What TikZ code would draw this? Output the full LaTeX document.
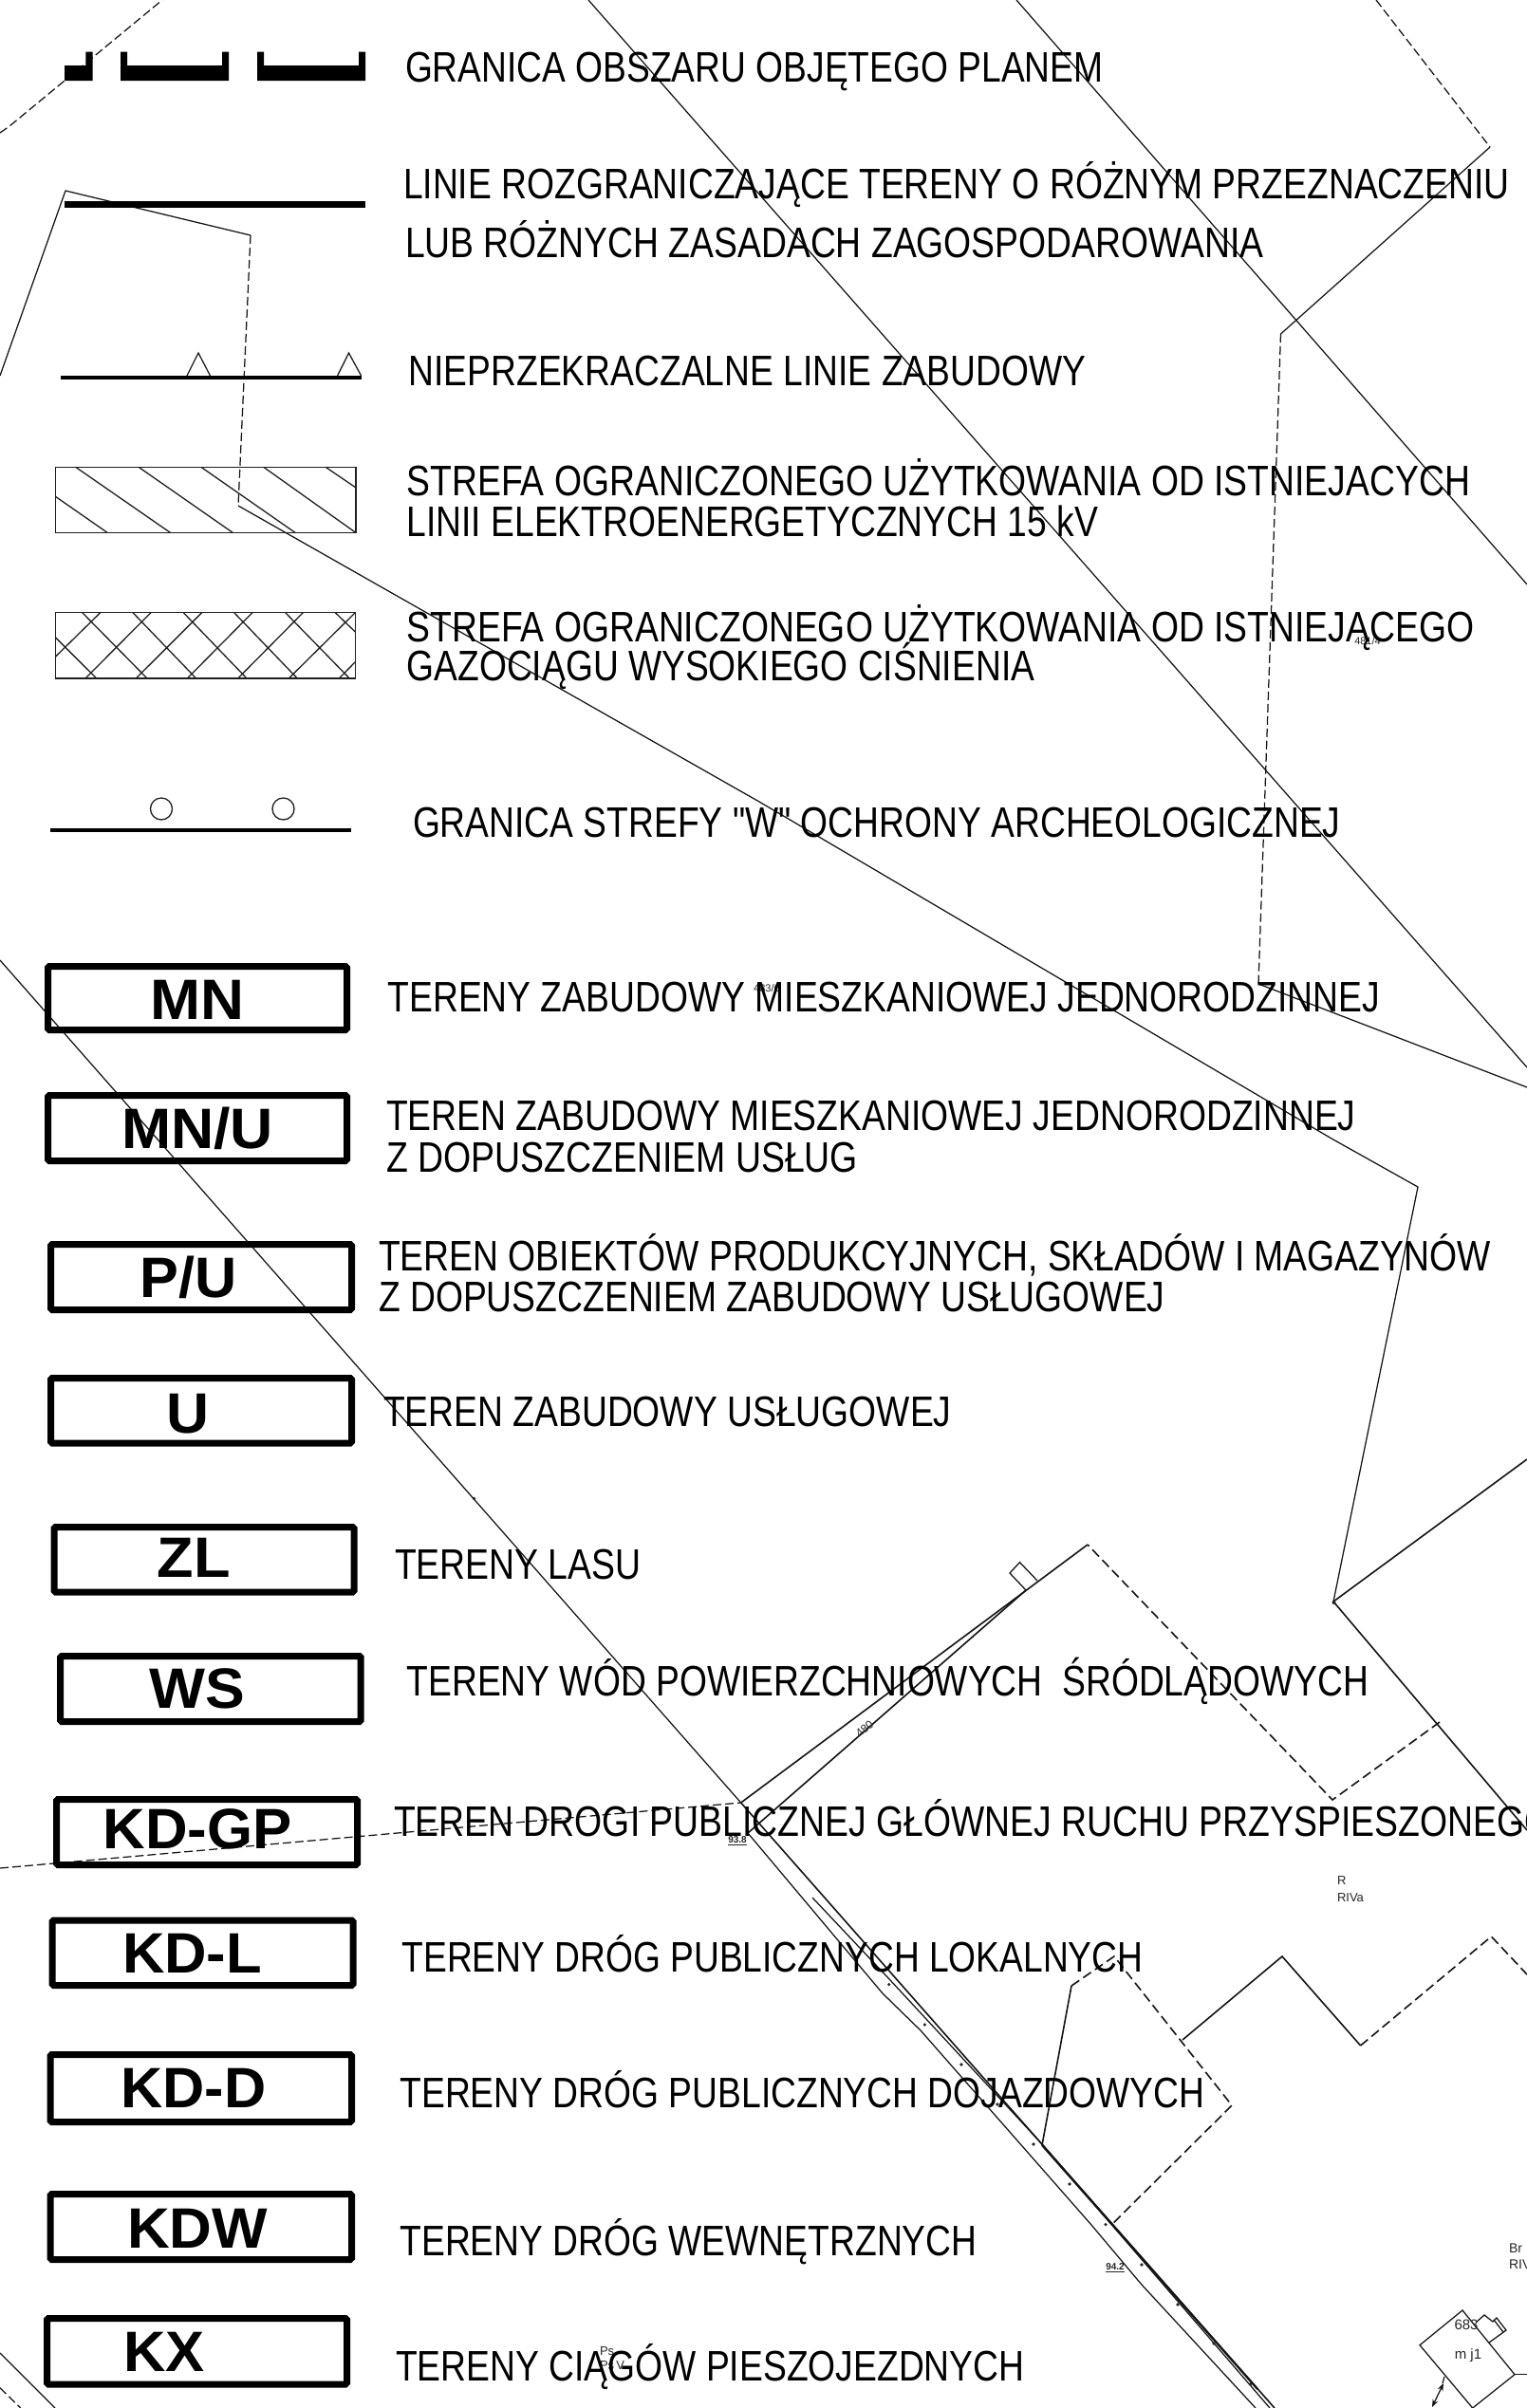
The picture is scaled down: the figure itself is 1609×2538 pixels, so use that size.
\documentclass[tikz,border=0pt]{standalone}
\usepackage{fontspec}
\usepackage{graphicx}
\setmainfont{Liberation Sans}[Ligatures=TeXOff]
\usetikzlibrary{arrows.meta,calc}
\tikzset{
  planline/.style={line width=1.25pt,draw=black!92},
  plandash/.style={line width=1.25pt,draw=black!92,dash pattern=on 9pt off 4pt},
  planheavy/.style={line width=1.6pt,draw=black!92},
  plandashheavy/.style={line width=1.6pt,draw=black!92,dash pattern=on 10pt off 5pt},
  hatchline/.style={line width=1.3pt,draw=black!88},
  symline/.style={line width=3.6pt,draw=black},
  landbox/.style={line width=7pt,draw=black,rounded corners=1.5pt},
  legendtext/.style={anchor=base west,inner sep=0pt,outer sep=0pt,font=\fontsize{45}{50}\selectfont},
  codetext/.style={anchor=base west,inner sep=0pt,outer sep=0pt,font=\fontsize{60}{66}\selectfont\bfseries},
  tinytext/.style={inner sep=0pt,outer sep=0pt,text=black!85,font=\fontsize{14}{16}\selectfont},
  plandot/.style={fill=black!85}
}
\newcommand\legtxt[5]{\node[legendtext,xshift=-1pt] (#1) at (#2,#3) {\resizebox{\dimexpr#4pt+3.5pt\relax}{\height}{#5}};}
\newcommand\codetxt[5]{\node[codetext,xshift=-1.5pt,yshift=1.5pt] (#1) at (#2,#3) {\resizebox{\dimexpr#4pt+3pt\relax}{\height}{#5}};}
\begin{document}
\begin{tikzpicture}[x=1pt,y=-1pt]
\useasboundingbox (0,0) rectangle (1609,2538);
\fill[white] (0,0) rectangle (1609,2538);
\clip (0,0) rectangle (1609,2538);
% --- cadastral plan underneath
\draw[plandash] (0,140) -- (10,133) -- (171,0);
\draw[planline] (0,396) -- (69,201) -- (264,248);
\draw[plandash] (264,248) -- (251,533);
\draw[planline] (251,533) -- (800,845) -- (1403,1200) -- (1494,1251) -- (1405,1688);
\draw[planheavy] (1405,1688) -- (1609,1538);
\draw[planline] (620,0) -- (1609,1125);
\draw[planline] (1071,0) -- (1609,616);
\draw[plandash] (1450,0) -- (1570,155);
\draw[planline] (1570,155) -- (1349.5,352);
\draw[plandash] (1349.5,352) -- (1326,1037);
\draw[planline] (1326,1037) -- (1609,1146);
\draw[planheavy] (1405,1688) -- (1609,1929);
\fill[plandot] (1405.5,1689) circle (2pt);
\draw[plandashheavy] (1517,1815) -- (1404,1897) -- (1146,1628);
\draw[planheavy] (1146,1628) -- (780.7,1900);
\draw[plandash] (0,1969) -- (780.7,1900);
\draw[planheavy] (1081,1676) -- (788,1932);
\draw[planline] (1081,1676) -- (1064,1658) -- (1074.5,1646.6) -- (1093,1666);
% road
\draw[planline] (0,1012) -- (780.7,1900);
\draw[planheavy] (780.7,1900) -- (1343,2538);
\draw[planline] (788,1932) -- (930,2101) -- (970,2140) -- (1150,2345) -- (1203,2408) -- (1323,2538);
\draw[planline] (856,2000) -- (938,2087) -- (1100,2262) -- (1338,2538);
\draw[line width=2.2pt,draw=black!92] (1098,2261) -- (1325,2518);
\foreach \dx/\dy in {499.5/1579.5,936.7/2091.6,974.4/2134,1013/2176,1051/2218,1089/2260,1127/2302,1165/2344.6,1203/2387,1241/2429,1279/2470,1317.5/2513}
  \fill[plandot] (\dx,\dy) circle (1.8pt);
% parcels at lower right
\draw[planheavy] (1098,2261) -- (1129,2093);
\draw[plandashheavy] (1129,2093) -- (1174,2062) -- (1298,2219) -- (1171.5,2344.6);
\draw[planheavy] (1246,2150) -- (1351,2062) -- (1433.6,2156);
\draw[plandashheavy] (1433.6,2156) -- (1571.4,2041) -- (1609,2081);
% building
\draw[planline] (1541,2435) -- (1496,2471.7) -- (1551.7,2538) -- (1596,2502.7) -- cycle;
\draw[planline] (1596,2502.7) -- (1609,2502.7);
\draw[planline] (1556,2447) -- (1564,2440) -- (1573,2447) -- (1577,2443) -- (1587,2456) -- (1569,2469);
\draw[planline] (1574,2445) -- (1584,2458);
\draw[planline,{Stealth[length=8pt,width=6pt]}-{Stealth[length=8pt,width=6pt]}] (1521,2512) -- (1509,2537);
\draw[planline] (1522,2505) -- (1520,2512);
% bottom left corner
\draw[planline] (0,2480) -- (58,2538);
\draw[plandash] (0,2516.7) -- (21.7,2538);
% small plan labels
\node[tinytext,font=\fontsize{11}{13}\selectfont] (lotA) at (1441,676) {481/4};
\node[tinytext,font=\fontsize{11}{13}\selectfont] (lotB) at (808,1042) {483/6};
\node[tinytext,anchor=base west,font=\fontsize{13}{15}\selectfont] (useRa) at (1409,1986) {R};
\node[tinytext,anchor=base west,font=\fontsize{13}{15}\selectfont] (useRb) at (1409,2004) {RIVa};
\node[tinytext,anchor=base west] (useBa) at (1590,2374) {Br};
\node[tinytext,anchor=base west] (useBb) at (1590,2391) {RIVa};
\node[tinytext,font=\fontsize{15}{17}\selectfont] (bldNo) at (1545,2450) {683};
\node[tinytext,font=\fontsize{15}{17}\selectfont] (bldUse) at (1547,2483) {m j1};
\node[tinytext,font=\fontsize{10}{12}\selectfont\bfseries] (elevA) at (777,1940) {\underline{93.8}};
\node[tinytext,font=\fontsize{10}{12}\selectfont\bfseries] (elevB) at (1175,2390) {\underline{94.2}};
\node[tinytext,rotate=40,font=\fontsize{12}{14}\selectfont] (lotC) at (911,1822) {480};
\node[tinytext,anchor=base west,font=\fontsize{13}{15}\selectfont] (usePa) at (632,2482) {Ps};
\node[tinytext,anchor=base west,font=\fontsize{13}{15}\selectfont] (usePb) at (632,2497) {Ps\,V};
% --- legend symbols
\fill (68,85) -- (97.5,85) -- (97.5,54.5) -- (90.3,54.5) -- (90.3,69) -- (68,69) -- cycle;
\foreach \ox in {0,144}
  \fill[xshift=\ox pt] (127,54.5) -- (134,54.5) -- (134,69) -- (234,69) -- (234,54.5) -- (241,54.5) -- (241,85) -- (127,85) -- cycle;
\draw[line width=7.5pt] (68,215.5) -- (385,215.5);
\draw[symline] (64,398) -- (381,398);
\draw[hatchline] (197,396) -- (209,372) -- (221.5,396);
\draw[hatchline] (355.6,396) -- (367.5,372) -- (380.6,396);
\draw[hatchline] (58.7,492.5) rectangle (375,561.5);
\foreach \xa/\xb in {80/179.6,146.4/245.4,212.2/311.2,278/375}
  \draw[hatchline] (\xa,492.5) -- (\xb,561.5);
\draw[hatchline] (343.4,492.5) -- (375,514);
\draw[hatchline] (58.7,523.5) -- (113.3,561.5);
\draw[hatchline] (58.3,645.7) rectangle (374.3,715);
\foreach \xa/\xb in {86.7/155,140/206.7,193.3/260,246.7/313.3,300.7/368.3}
  \draw[hatchline] (\xa,645.7) -- (\xb,715);
\draw[hatchline] (58.3,671.7) -- (101.7,715);
\draw[hatchline] (353.3,645.7) -- (374.3,666);
\foreach \xa/\xb in {159/90,212.7/143.3,266/197.3,319.3/250.7,374.3/304.3}
  \draw[hatchline] (\xa,645.7) -- (\xb,715);
\draw[hatchline] (105.7,645.7) -- (58.3,692.3);
\draw[hatchline] (374.3,697.7) -- (357.3,715);
\draw[symline] (53,875) -- (370,875);
\draw[hatchline] (170,852.5) circle (11.5pt);
\draw[hatchline] (298.5,852.5) circle (11.5pt);
% --- land-use boxes
\draw[landbox] (50.5,1018.5) rectangle (365.5,1085.5);
\draw[landbox] (50.5,1154.5) rectangle (365.5,1223.5);
\draw[landbox] (53.5,1311.5) rectangle (370.5,1380.5);
\draw[landbox] (53.5,1452.5) rectangle (370.5,1521);
\draw[landbox] (57,1609.5) rectangle (373,1678);
\draw[landbox] (63.5,1745.5) rectangle (380.2,1814.5);
\draw[landbox] (59.5,1896.5) rectangle (376.5,1965.5);
\draw[landbox] (55,2024) rectangle (372,2092.5);
\draw[landbox] (53,2165.5) rectangle (370.5,2236.5);
\draw[landbox] (53,2312.5) rectangle (370.5,2381.5);
\draw[landbox] (49.5,2443.5) rectangle (365.5,2513);
% --- codes
\codetxt{cMN}{160}{1076}{96}{MN}
\codetxt{cMNU}{129.5}{1212}{157}{MN/U}
\codetxt{cPU}{149}{1369}{99}{P/U}
\codetxt{cU}{176.5}{1512}{42}{U}
\codetxt{cZL}{167}{1664}{74}{ZL}
\codetxt{cWS}{159}{1802}{97.6}{WS}
\codetxt{cKDGP}{110}{1950}{196}{KD-GP}
\codetxt{cKDL}{130.6}{2081}{144}{KD-L}
\codetxt{cKDD}{129}{2223}{150}{KD-D}
\codetxt{cKDW}{135.7}{2371}{145}{KDW}
\codetxt{cKX}{131.6}{2501}{82.4}{KX}
% --- legend text
\legtxt{t1}{428}{86}{732}{GRANICA OBSZARU OBJĘTEGO PLANEM}
\legtxt{t2}{426}{209.5}{1162}{LINIE ROZGRANICZAJĄCE TERENY O RÓŻNYM PRZEZNACZENIU}
\legtxt{t3}{428}{271}{901}{LUB RÓŻNYCH ZASADACH ZAGOSPODAROWANIA}
\legtxt{t4}{431.6}{406}{710}{NIEPRZEKRACZALNE LINIE ZABUDOWY}
\legtxt{t5}{429.6}{522.5}{1117}{STREFA OGRANICZONEGO UŻYTKOWANIA OD ISTNIEJACYCH}
\legtxt{t6}{429.6}{565}{725}{LINII ELEKTROENERGETYCZNYCH 15 kV}
\legtxt{t7}{429.6}{676}{1121}{STREFA OGRANICZONEGO UŻYTKOWANIA OD ISTNIEJĄCEGO}
\legtxt{t8}{429.6}{717.6}{658}{GAZOCIĄGU WYSOKIEGO CIŚNIENIA}
\legtxt{t9}{436}{882}{974}{GRANICA STREFY "W" OCHRONY ARCHEOLOGICZNEJ}
\legtxt{t10}{409.5}{1066.5}{1042}{TERENY ZABUDOWY MIESZKANIOWEJ JEDNORODZINNEJ}
\legtxt{t11}{408}{1191.5}{1018}{TEREN ZABUDOWY MIESZKANIOWEJ JEDNORODZINNEJ}
\legtxt{t12}{408}{1235.5}{493.6}{Z DOPUSZCZENIEM USŁUG}
\legtxt{t13}{400}{1339.5}{1168}{TEREN OBIEKTÓW PRODUKCYJNYCH, SKŁADÓW I MAGAZYNÓW}
\legtxt{t14}{400}{1382}{825}{Z DOPUSZCZENIEM ZABUDOWY USŁUGOWEJ}
\legtxt{t15}{405}{1503.5}{595}{TEREN ZABUDOWY USŁUGOWEJ}
\legtxt{t16}{417}{1664}{256}{TERENY LASU}
\legtxt{t17}{429.6}{1787}{1010}{TERENY WÓD POWIERZCHNIOWYCH\ \ ŚRÓDLĄDOWYCH}
\legtxt{t18}{416}{1935}{1217}{TEREN DROGI PUBLICZNEJ GŁÓWNEJ RUCHU PRZYSPIESZONEGO}
\legtxt{t19}{424.5}{2078.5}{777.5}{TERENY DRÓG PUBLICZNYCH LOKALNYCH}
\legtxt{t20}{422.5}{2221}{844.5}{TERENY DRÓG PUBLICZNYCH DOJAZDOWYCH}
\legtxt{t21}{422.5}{2377.5}{604.5}{TERENY DRÓG WEWNĘTRZNYCH}
\legtxt{t22}{418}{2509}{659}{TERENY CIĄGÓW PIESZOJEZDNYCH}
\end{tikzpicture}
\end{document}
